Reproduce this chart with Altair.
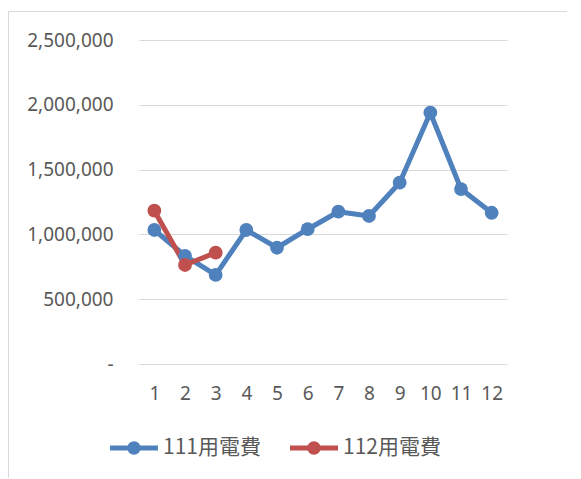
import altair as alt
import pandas as pd

months = [1, 2, 3, 4, 5, 6, 7, 8, 9, 10, 11, 12]
fee_111 = [1034000, 835000, 687000, 1034000, 897000, 1040000, 1175000, 1142000, 1399000, 1939000, 1350000, 1167000]
months_112 = [1, 2, 3]
fee_112 = [1183000, 764000, 859000]
series_names = ["111用電費", "112用電費"]
series_colors = ["#4F81BD", "#C0504D"]
y_ticks = [0, 500000, 1000000, 1500000, 2000000, 2500000]

rows = [{"month": m, "fee": v, "series": series_names[0]} for m, v in zip(months, fee_111)]
rows += [{"month": m, "fee": v, "series": series_names[1]} for m, v in zip(months_112, fee_112)]
df = pd.DataFrame(rows)

legend_path = ("M-1,-0.1 L1,-0.1 L1,0.1 L-1,0.1 Z "
               "M-0.28,0 A0.28,0.28 0 1,1 0.28,0 A0.28,0.28 0 1,1 -0.28,0 Z")

x_enc = alt.X("month:O", sort=months,
              scale=alt.Scale(type="point", padding=0.5, domain=months),
              axis=alt.Axis(title=None, labelAngle=0, domain=False, ticks=False,
                            labelPadding=20, labelFontSize=19, labelColor="#595959",
                            labelFont="Noto Sans", grid=False))
y_enc = alt.Y("fee:Q", scale=alt.Scale(domain=[0, 2500000], nice=False),
              axis=alt.Axis(title=None, values=y_ticks, domain=False, ticks=False,
                            labelPadding=26, labelFontSize=19, labelColor="#595959",
                            labelFont="Noto Sans", gridColor="#d9d9d9", gridWidth=1,
                            labelExpr="datum.value == 0 ? '-' : format(datum.value, ',')"))
legend = alt.Legend(title=None, orient="none", direction="horizontal",
                    legendX=-29, legendY=384,
                    symbolType=legend_path, symbolSize=2304,
                    symbolStrokeWidth=0, labelFontSize=21,
                    labelFont="Noto Sans CJK TC", labelColor="#595959",
                    labelOffset=5, columnPadding=29)
color_enc = alt.Color("series:N", scale=alt.Scale(domain=series_names, range=series_colors),
                      legend=legend)

base = alt.Chart(df)
lines = base.mark_line(strokeWidth=5, strokeCap="round", strokeJoin="round").encode(
    x=x_enc, y=y_enc, color=color_enc,
    order=alt.Order("month:Q"),
)
points = base.mark_point(filled=True, size=190, opacity=1).encode(
    x=x_enc, y=y_enc, color=color_enc,
)

frame_df = pd.DataFrame({"a": [0]})
frame_top = alt.Chart(frame_df).mark_rule(stroke="#d9d9d9", strokeWidth=1, clip=False).encode(
    x=alt.value(-130.5), x2=alt.value(600), y=alt.value(-28.5))
frame_left = alt.Chart(frame_df).mark_rule(stroke="#d9d9d9", strokeWidth=1, clip=False).encode(
    x=alt.value(-130.5), y=alt.value(-28.5), y2=alt.value(600))

chart = alt.layer(frame_top, frame_left, lines, points).properties(
    width=368, height=324,
    autosize=alt.AutoSizeParams(type="none"),
    padding={"left": 131, "top": 32, "right": 60, "bottom": 114},
    background="white",
).configure_view(stroke=None)

chart.save("out.html", embed_options={"renderer": "svg", "actions": False})
